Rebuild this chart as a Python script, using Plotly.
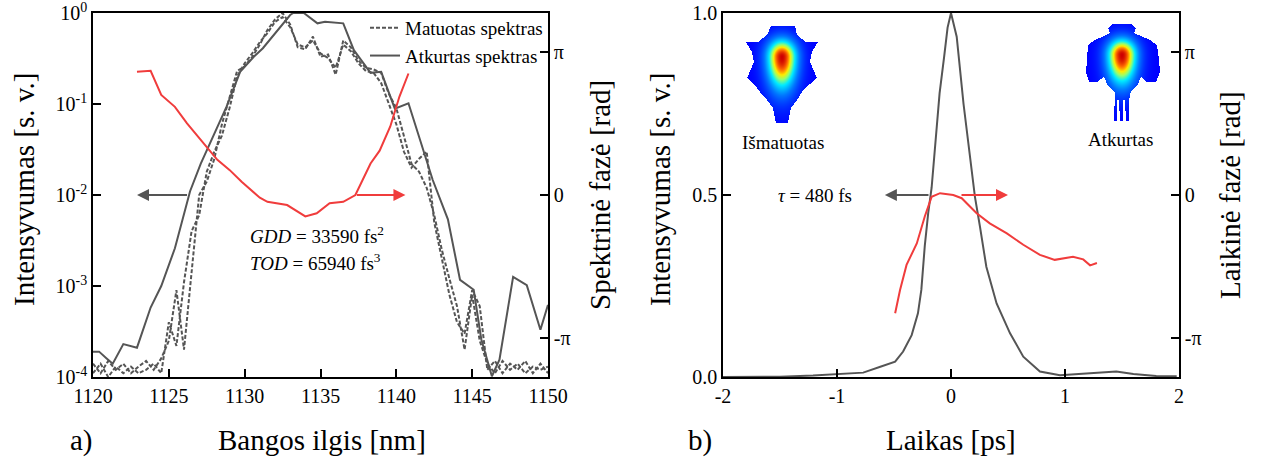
import numpy as np
import plotly.graph_objects as go

W, H = 1265, 465
PI = np.pi

# ---------------- panel a): spectrum ----------------
# measured spectra (several recordings), sampled every 0.5 nm
meas_wl = [1120.0 + 0.5 * i for i in range(61)]
meas_a = [1.4e-4, 1.1e-4, 1.5e-4, 1.2e-4, 1.4e-4, 1.1e-4, 1.3e-4, 1.5e-4, 1.2e-4, 1.6e-4,
          2.5e-4, 9.0e-4, 2.0e-4, 1.5e-3, 1.0e-2, 1.4e-2, 2.5e-2, 6.0e-2, 1.2e-1, 2.3e-1,
          2.6e-1, 3.3e-1, 4.5e-1, 6.5e-1, 8.5e-1, 1.0, 0.75, 0.42, 0.40, 0.55,
          0.33, 0.35, 0.21, 0.50, 0.42, 0.30, 0.25, 0.24, 0.22, 0.13,
          0.09, 0.045, 0.022, 0.018, 0.012, 0.006, 0.0025, 0.0012, 0.0006, 0.0002,
          0.0008, 0.00025, 0.00014, 0.00011, 0.00015, 0.00012, 0.00014, 0.00011, 0.00013, 0.00012,
          0.00013]
meas_b = [1.1e-4, 1.4e-4, 1.0e-4, 1.3e-4, 1.1e-4, 1.3e-4, 1.1e-4, 1.2e-4, 1.4e-4, 1.1e-4,
          4.0e-4, 2.2e-4, 1.1e-3, 4.0e-3, 6.0e-3, 1.8e-2, 3.0e-2, 4.5e-2, 9.0e-2, 2.0e-1,
          2.8e-1, 3.6e-1, 4.8e-1, 6.0e-1, 8.0e-1, 0.90, 0.70, 0.45, 0.42, 0.50,
          0.36, 0.32, 0.25, 0.45, 0.38, 0.28, 0.23, 0.22, 0.17, 0.10,
          0.06, 0.03, 0.02, 0.025, 0.03, 0.005, 0.002, 0.0008, 0.0004, 0.0003,
          0.0009, 0.0006, 0.00012, 0.00015, 0.00011, 0.00014, 0.00012, 0.00015, 0.00011, 0.00014,
          0.00011]

# reconstructed spectrum
rec_wl = [1120.0, 1120.4, 1120.9, 1121.3, 1122.0, 1122.9, 1123.8, 1124.5, 1125.4, 1126.4,
          1127.1, 1128.8, 1129.7, 1130.6, 1131.2, 1133.0, 1133.2, 1133.9, 1134.8, 1135.3,
          1136.5, 1137.2, 1138.3, 1139.0, 1139.9, 1140.8, 1142.4, 1143.4, 1144.2, 1145.1,
          1145.6, 1146.3, 1146.8, 1147.7, 1148.6, 1149.5, 1150.0]
rec_int = [1.9e-4, 1.9e-4, 1.6e-4, 1.4e-4, 2.3e-4, 2.1e-4, 5.8e-4, 1.0e-3, 2.6e-3, 1.1e-2,
           2.2e-2, 9.3e-2, 0.226, 0.33, 0.41, 0.95, 1.0, 1.0, 0.77, 0.80,
           0.77, 0.39, 0.22, 0.226, 0.089, 0.102, 0.0146, 0.0054, 0.00117, 0.00091,
           0.00026, 0.000102, 0.000155, 0.00126, 0.00102, 0.00033, 0.00062]

# spectral phase [rad]
sph_wl = [1122.9, 1123.8, 1124.5, 1125.4, 1126.2, 1127.3, 1128.2, 1129.0, 1129.8, 1131.0,
          1131.5, 1132.8, 1134.0, 1134.75, 1135.6, 1136.5, 1137.3, 1138.3, 1138.9, 1139.6,
          1140.2, 1140.8]
sph_rad = [2.70, 2.72, 2.19, 1.93, 1.57, 1.13, 0.77, 0.55, 0.29, -0.06,
           -0.15, -0.22, -0.47, -0.40, -0.18, -0.15, 0.0, 0.69, 0.97, 1.50,
           2.15, 2.66]

# ---------------- panel b): temporal profile ----------------
t_ps = [-2.0, -1.5, -1.21, -1.0, -0.77, -0.62, -0.49, -0.42, -0.345, -0.29,
        -0.26, -0.23, -0.20, -0.17, -0.14, -0.10, -0.06, -0.03, 0.0, 0.05,
        0.11, 0.167, 0.21, 0.254, 0.31, 0.40, 0.518, 0.634, 0.78, 0.956,
        1.22, 1.45, 1.60, 1.80, 1.98]
t_int = [0.0, 0.001, 0.004, 0.007, 0.012, 0.028, 0.042, 0.07, 0.115, 0.175,
         0.24, 0.36, 0.45, 0.52, 0.64, 0.78, 0.88, 0.96, 1.0, 0.935,
         0.75, 0.605, 0.495, 0.413, 0.303, 0.202, 0.12, 0.056, 0.015, 0.005,
         0.01, 0.015, 0.008, 0.003, 0.002]

tph_t = [-0.49, -0.447, -0.39, -0.30, -0.23, -0.17, -0.096, 0.02, 0.094, 0.225,
         0.34, 0.49, 0.634, 0.78, 0.91, 1.07, 1.16, 1.22, 1.28]
tph_rad = [-2.59, -2.08, -1.53, -1.06, -0.47, -0.04, 0.04, 0.0, -0.07, -0.40,
           -0.62, -0.84, -1.09, -1.31, -1.42, -1.35, -1.41, -1.54, -1.49]

wl_ticks = [1120, 1125, 1130, 1135, 1140, 1145, 1150]
log_ticks = [1e-4, 1e-3, 1e-2, 1e-1, 1.0]
log_ticktext = ["10<sup>-4</sup>", "10<sup>-3</sup>", "10<sup>-2</sup>", "10<sup>-1</sup>", "10<sup>0</sup>"]
t_ticks = [-2, -1, 0, 1, 2]
t_ticktext = ["-2", "-1", "0", "1", "2"]
int_ticks = [0.0, 0.5, 1.0]
int_ticktext = ["0.0", "0.5", "1.0"]
phase_ticks = [-PI, 0.0, PI]
phase_ticktext = ["-π", "0", "π"]

# beam-profile insets (outline vertices in inset pixel frame)
measured_outline = [(771, 26), (795, 26), (797, 35), (806, 42), (818, 42), (812, 52), (810, 62),
                    (817, 78), (810, 84), (802, 92), (797, 100), (791, 108), (788, 123), (776, 123),
                    (773, 108), (767, 100), (760, 92), (754, 84), (747, 78), (754, 62), (752, 52),
                    (746, 42), (758, 42), (767, 35)]
retrieved_outline = [(1108, 28), (1113, 24), (1131, 24), (1136, 28), (1134, 33), (1141, 36),
                     (1150, 40), (1157, 45), (1159, 60), (1160, 72), (1156, 82), (1147, 82),
                     (1141, 77), (1137, 86), (1131, 91), (1129, 100), (1129, 121), (1126, 121),
                     (1125, 100), (1123, 100), (1123, 121), (1120, 121), (1119, 100), (1117, 100),
                     (1117, 121), (1114, 121), (1115, 92), (1108, 86), (1104, 77), (1097, 82),
                     (1089, 82), (1086, 72), (1087, 60), (1088, 45), (1095, 40), (1104, 36),
                     (1110, 33)]

GRAY = "rgb(85,85,85)"
RED = "rgb(240,60,60)"
FONT = "Liberation Serif, Times New Roman, serif"


def px(x):
    return x / W


def py(y):
    return 1 - y / H


def inside(poly, X, Y):
    res = np.zeros(X.shape, bool)
    n = len(poly)
    for i in range(n):
        x1, y1 = poly[i]
        x2, y2 = poly[(i + 1) % n]
        if y1 == y2:
            continue
        cond = ((y1 > Y) != (y2 > Y)) & (X < (x2 - x1) * (Y - y1) / (y2 - y1) + x1)
        res ^= cond
    return res


def beam(poly, x0, x1, y0, y1, cx, cy, sx, sy_up, sy_dn):
    xs = np.arange(x0 + 0.5, x1)
    ys = np.arange(y0 + 0.5, y1)
    X, Y = np.meshgrid(xs, ys)
    sy = np.where(Y < cy, sy_up, sy_dn)
    g = np.exp(-0.5 * ((X - cx) / sx) ** 2 - 0.5 * ((Y - cy) / sy) ** 2)
    z = 0.1 + 0.9 * g
    z[~inside(poly, X, Y)] = np.nan
    return xs, ys, z


beam_scale = [[0.0, "rgb(0,0,190)"], [0.1, "rgb(0,0,255)"], [0.35, "rgb(0,120,255)"],
              [0.55, "rgb(0,235,255)"], [0.68, "rgb(150,255,110)"], [0.78, "rgb(255,235,0)"],
              [0.88, "rgb(255,110,0)"], [1.0, "rgb(205,0,0)"]]

fig = go.Figure()

# panel a traces
fig.add_trace(go.Scatter(x=meas_wl, y=meas_a, mode="lines", name="Matuotas spektras",
                         line=dict(color=GRAY, width=2, dash="4px,2px"), xaxis="x", yaxis="y"))
fig.add_trace(go.Scatter(x=meas_wl, y=meas_b, mode="lines", showlegend=False,
                         line=dict(color=GRAY, width=2, dash="4px,2px"), xaxis="x", yaxis="y"))
fig.add_trace(go.Scatter(x=rec_wl, y=rec_int, mode="lines", name="Atkurtas spektras",
                         line=dict(color=GRAY, width=2), xaxis="x", yaxis="y"))
fig.add_trace(go.Scatter(x=sph_wl, y=sph_rad, mode="lines", showlegend=False,
                         line=dict(color=RED, width=2), xaxis="x", yaxis="y2"))

# panel b traces
fig.add_trace(go.Scatter(x=t_ps, y=t_int, mode="lines", showlegend=False,
                         line=dict(color=GRAY, width=2), xaxis="x2", yaxis="y3"))
fig.add_trace(go.Scatter(x=tph_t, y=tph_rad, mode="lines", showlegend=False,
                         line=dict(color=RED, width=2), xaxis="x2", yaxis="y4"))

# beam insets
bx, by, bz = beam(measured_outline, 738, 827, 25, 125, 782, 57, 11, 13, 24)
fig.add_trace(go.Heatmap(x=bx, y=by, z=bz, colorscale=beam_scale, zmin=0, zmax=1,
                         showscale=False, hoverinfo="skip", xaxis="x3", yaxis="y5"))
bx, by, bz = beam(retrieved_outline, 1085, 1161, 22, 123, 1122, 55, 11, 12, 22)
fig.add_trace(go.Heatmap(x=bx, y=by, z=bz, colorscale=beam_scale, zmin=0, zmax=1,
                         showscale=False, hoverinfo="skip", xaxis="x4", yaxis="y6"))

tickfont = dict(family=FONT, size=20, color="black")
common = dict(showgrid=False, zeroline=False, showline=True, linecolor="black", linewidth=1.5,
              ticks="inside", ticklen=8, tickwidth=1.5, tickcolor="black", tickfont=tickfont,
              automargin=False, ticklabeloverflow="allow")
hidden = dict(visible=False, automargin=False)

Ldom = [px(93), px(548)]
Rdom = [px(723), px(1179)]
Ydom = [py(377), py(13)]

fig.update_layout(
    width=W, height=H, margin=dict(l=0, r=0, t=0, b=0, autoexpand=False),
    paper_bgcolor="white", plot_bgcolor="white",
    font=dict(family=FONT, color="black"),
    xaxis=dict(domain=Ldom, range=[1120, 1150], tickvals=wl_ticks, anchor="y", mirror=True, **common),
    yaxis=dict(domain=Ydom, type="log", range=[-4, 0], tickvals=log_ticks, ticktext=log_ticktext,
               anchor="x", **common),
    yaxis2=dict(overlaying="y", side="right", anchor="x", range=[-3.985, 3.985],
                tickvals=phase_ticks, ticktext=phase_ticktext, **common),
    xaxis2=dict(domain=Rdom, range=[-2, 2], tickvals=t_ticks, ticktext=t_ticktext, anchor="y3",
                mirror=True, **common),
    yaxis3=dict(domain=Ydom, range=[0, 1], tickvals=int_ticks, ticktext=int_ticktext,
                anchor="x2", **common),
    yaxis4=dict(overlaying="y3", side="right", anchor="x2", range=[-3.985, 3.985],
                tickvals=phase_ticks, ticktext=phase_ticktext, **common),
    xaxis3=dict(domain=[px(738), px(827)], range=[738, 827], anchor="y5", **hidden),
    yaxis5=dict(domain=[py(125), py(25)], range=[125, 25], anchor="x3", **hidden),
    xaxis4=dict(domain=[px(1085), px(1161)], range=[1085, 1161], anchor="y6", **hidden),
    yaxis6=dict(domain=[py(123), py(22)], range=[123, 22], anchor="x4", **hidden),
    legend=dict(x=px(365), y=py(9), xanchor="left", yanchor="top", bgcolor="rgba(0,0,0,0)",
                font=dict(family=FONT, size=19, color="black"), tracegroupgap=0),
    showlegend=True,
)

ann = []
title_font = dict(family=FONT, size=29, color="black")
text_font = dict(family=FONT, size=19, color="black")
for x, y, t, ang in [(24, 190, "Intensyvumas [s. v.]", -90), (600, 195, "Spektrinė fazė [rad]", -90),
                     (660, 190, "Intensyvumas [s. v.]", -90), (1230, 195, "Laikinė fazė [rad]", -90),
                     (322, 440, "Bangos ilgis [nm]", 0), (951, 440, "Laikas [ps]", 0),
                     (81, 440, "a)", 0), (700, 440, "b)", 0)]:
    ann.append(dict(x=px(x), y=py(y), xref="paper", yref="paper", text=t, textangle=ang,
                    showarrow=False, font=title_font, xanchor="center", yanchor="middle"))

ann += [
    dict(x=1130.2, y=-2.44, xref="x", yref="y", text="<i>GDD</i> = 33590 fs<sup>2</sup>",
         showarrow=False, xanchor="left", yanchor="middle", font=text_font),
    dict(x=1130.2, y=-2.74, xref="x", yref="y", text="<i>TOD</i> = 65940 fs<sup>3</sup>",
         showarrow=False, xanchor="left", yanchor="middle", font=text_font),
    dict(x=-1.19, y=0.5, xref="x2", yref="y3", text="<i>τ</i> = 480 fs",
         showarrow=False, xanchor="center", yanchor="middle", font=text_font),
    dict(x=-1.47, y=0.643, xref="x2", yref="y3", text="Išmatuotas",
         showarrow=False, xanchor="center", yanchor="middle", font=text_font),
    dict(x=1.49, y=0.652, xref="x2", yref="y3", text="Atkurtas",
         showarrow=False, xanchor="center", yanchor="middle", font=text_font),
    # axis-indicating arrows
    dict(x=1122.9, y=-2.0, ax=1126.3, ay=-2.0, xref="x", yref="y", axref="x", ayref="y",
         showarrow=True, arrowhead=2, arrowsize=1.2, arrowwidth=2, arrowcolor=GRAY, text=""),
    dict(x=1140.6, y=0.0, ax=1137.3, ay=0.0, xref="x", yref="y2", axref="x", ayref="y2",
         showarrow=True, arrowhead=2, arrowsize=1.2, arrowwidth=2, arrowcolor=RED, text=""),
    dict(x=-0.58, y=0.5, ax=-0.184, ay=0.5, xref="x2", yref="y3", axref="x2", ayref="y3",
         showarrow=True, arrowhead=2, arrowsize=1.2, arrowwidth=2, arrowcolor=GRAY, text=""),
    dict(x=0.5, y=0.0, ax=0.079, ay=0.0, xref="x2", yref="y4", axref="x2", ayref="y4",
         showarrow=True, arrowhead=2, arrowsize=1.2, arrowwidth=2, arrowcolor=RED, text=""),
]
fig.update_layout(annotations=ann)

fig.write_html("out.html")
